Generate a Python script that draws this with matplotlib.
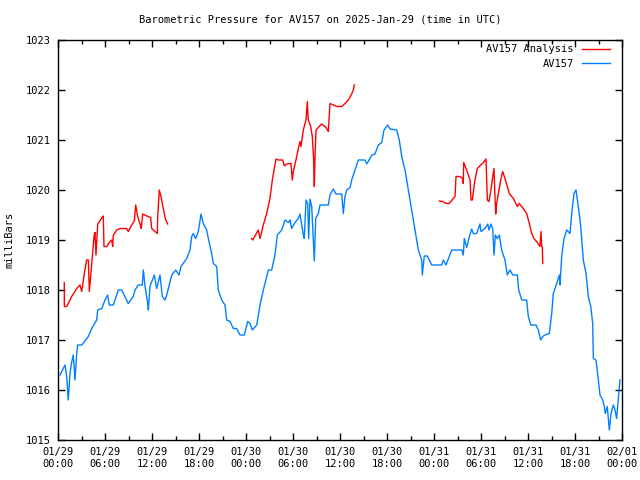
import numpy as np
import pandas as pd
import matplotlib
matplotlib.use('Agg')
import matplotlib.pyplot as plt
import matplotlib.dates as mdates

# hours since 2025-01-29 00:00 UTC, pressure in mb
obs_hours = [0.26, 0.89, 1.11, 1.31, 1.53, 1.75, 1.95, 2.17, 2.39, 2.51, 3.03, 3.87, 4.30, 4.94,
             5.07, 5.58, 6.00, 6.34, 6.55, 7.06, 7.70, 8.13, 8.97, 9.61, 9.83, 10.25, 10.76,
             10.89, 11.11, 11.45, 11.53, 11.74, 12.29, 12.60, 13.02, 13.32, 13.66, 13.88, 14.52,
             15.03, 15.45, 15.70, 16.43, 16.85, 17.07, 17.27, 17.58, 17.91, 18.26, 18.55, 18.98,
             19.19, 19.62, 19.83, 20.26, 20.46, 20.90, 21.32, 21.54, 21.96, 22.38, 22.81, 23.23,
             23.78, 24.22, 24.51, 24.80, 25.37, 25.79, 26.21, 26.85, 27.28, 27.70, 28.00, 28.56,
             28.98, 29.40, 29.62, 29.83, 30.26, 30.68, 30.89, 31.11, 31.32, 31.44, 31.66, 31.88,
             32.00, 32.17, 32.39, 32.59, 32.72, 32.90, 33.23, 33.45, 34.51, 34.72, 35.15, 35.49,
             36.22, 36.42, 36.64, 36.86, 37.28, 37.49, 37.92, 38.34, 39.19, 39.41, 39.83, 40.05,
             40.47, 40.89, 41.32, 41.62, 42.09, 42.38, 43.24, 43.57, 43.88, 44.30, 44.72, 45.15,
             45.58, 46.00, 46.43, 46.51, 46.76, 47.14, 47.71, 48.98, 49.19, 49.53, 50.26, 51.54,
             51.74, 51.87, 52.17, 52.51, 52.81, 53.02, 53.45, 53.87, 54.00, 54.51, 54.86, 55.02,
             55.28, 55.50, 55.66, 55.83, 56.08, 56.34, 56.64, 57.06, 57.36, 57.70, 58.05, 58.64,
             58.81, 59.20, 59.83, 60.04, 60.35, 61.02, 61.32, 61.62, 61.88, 62.17, 62.72, 63.03,
             63.23, 63.66, 64.00, 64.09, 64.30, 64.60, 64.94, 65.36, 65.58, 65.87, 66.13, 66.42,
             66.73, 67.06, 67.41, 67.70, 68.01, 68.26, 68.34, 68.68, 68.98, 69.19, 69.54, 69.74,
             69.87, 70.12, 70.38, 70.60, 70.89, 71.11, 71.32, 71.53, 71.74]
obs_mb = [1016.3, 1016.5, 1016.27, 1015.8, 1016.33, 1016.56, 1016.7, 1016.2, 1016.73, 1016.9,
          1016.9, 1017.07, 1017.23, 1017.4, 1017.6, 1017.63, 1017.8, 1017.9, 1017.7, 1017.7,
          1018.0, 1018.0, 1017.73, 1017.87, 1018.0, 1018.1, 1018.1, 1018.4, 1018.07, 1017.73,
          1017.6, 1018.07, 1018.3, 1018.03, 1018.3, 1017.87, 1017.8, 1017.9, 1018.3, 1018.4,
          1018.3, 1018.47, 1018.63, 1018.8, 1019.07, 1019.13, 1019.03, 1019.17, 1019.52, 1019.33,
          1019.2, 1019.03, 1018.73, 1018.53, 1018.47, 1018.0, 1017.8, 1017.7, 1017.4, 1017.37,
          1017.23, 1017.23, 1017.1, 1017.1, 1017.37, 1017.33, 1017.2, 1017.3, 1017.7, 1018.0,
          1018.4, 1018.4, 1018.7, 1019.1, 1019.2, 1019.4, 1019.35, 1019.4, 1019.23, 1019.35,
          1019.43, 1019.52, 1019.3, 1019.1, 1019.03, 1019.8, 1019.73, 1019.03, 1019.82, 1019.67,
          1019.03, 1018.58, 1019.43, 1019.53, 1019.7, 1019.7, 1019.9, 1020.02, 1019.92, 1019.92,
          1019.53, 1019.87, 1020.0, 1020.05, 1020.2, 1020.4, 1020.6, 1020.6, 1020.52, 1020.63,
          1020.7, 1020.72, 1020.9, 1020.95, 1021.2, 1021.3, 1021.22, 1021.2, 1021.0, 1020.67,
          1020.4, 1020.0, 1019.6, 1019.2, 1018.8, 1018.6, 1018.3, 1018.68, 1018.68, 1018.5,
          1018.5, 1018.6, 1018.5, 1018.8, 1018.8, 1018.7, 1019.03, 1018.85, 1019.07, 1019.22,
          1019.13, 1019.13, 1019.32, 1019.17, 1019.23, 1019.32, 1019.2, 1019.32, 1019.22, 1018.7,
          1019.1, 1019.03, 1019.1, 1018.8, 1018.6, 1018.3, 1018.4, 1018.3, 1018.3, 1018.0,
          1017.8, 1017.8, 1017.47, 1017.3, 1017.3, 1017.2, 1017.0, 1017.07, 1017.1, 1017.13,
          1017.53, 1017.93, 1018.13, 1018.3, 1018.1, 1018.67, 1019.03, 1019.2, 1019.13, 1019.53,
          1019.93, 1020.0, 1019.67, 1019.27, 1018.6, 1018.33, 1017.87, 1017.67, 1017.33, 1016.63,
          1016.6, 1016.2, 1015.9, 1015.8, 1015.67, 1015.53, 1015.67, 1015.2, 1015.53, 1015.7,
          1015.6, 1015.43, 1015.83, 1016.2]

ana1_hours = [0.80, 0.81, 1.11, 1.75, 2.39, 2.81, 3.03, 3.36, 3.66, 3.87, 4.00, 4.17, 4.38, 4.60,
              4.72, 4.85, 5.07, 5.49, 5.78, 5.87, 6.22, 6.64, 6.86, 6.98, 7.06, 7.49, 7.92, 8.77,
              8.97, 9.41, 9.74, 9.92, 10.17, 10.51, 10.63, 10.81, 11.32, 11.83, 11.96, 12.38,
              12.68, 12.73, 12.93, 13.15, 13.32, 13.57, 13.75, 14.00]
ana1_mb = [1018.15, 1017.67, 1017.67, 1017.87, 1018.03, 1018.1, 1017.97, 1018.33, 1018.6, 1018.6,
           1017.97, 1018.27, 1018.67, 1019.07, 1019.15, 1018.7, 1019.32, 1019.42, 1019.48, 1018.87,
           1018.87, 1018.97, 1019.0, 1018.87, 1019.1, 1019.2, 1019.23, 1019.23, 1019.17, 1019.3,
           1019.38, 1019.7, 1019.47, 1019.3, 1019.23, 1019.52, 1019.48, 1019.45, 1019.23, 1019.17,
           1019.13, 1019.47, 1020.0, 1019.87, 1019.73, 1019.53, 1019.4, 1019.32]

ana2_hours = [24.73, 24.86, 25.57, 25.79, 26.21, 26.64, 27.06, 27.36, 27.61, 27.83, 28.12, 28.69,
              28.89, 29.20, 29.53, 29.74, 29.91, 30.04, 30.38, 30.68, 30.89, 31.02, 31.32, 31.53,
              31.66, 31.83, 31.95, 32.26, 32.46, 32.64, 32.72, 32.81, 32.94, 33.23, 33.66, 34.21,
              34.51, 34.72, 35.15, 35.58, 36.22, 36.64, 37.06, 37.49, 37.70, 37.83]
ana2_mb = [1019.03, 1019.0, 1019.2, 1019.03, 1019.3, 1019.53, 1019.83, 1020.2, 1020.43, 1020.62,
           1020.6, 1020.6, 1020.48, 1020.52, 1020.53, 1020.53, 1020.2, 1020.37, 1020.6, 1020.83,
           1020.97, 1020.87, 1021.2, 1021.33, 1021.4, 1021.77, 1021.4, 1021.27, 1021.07, 1020.6,
           1020.07, 1020.67, 1021.2, 1021.25, 1021.32, 1021.25, 1021.17, 1021.73, 1021.7, 1021.67,
           1021.67, 1021.73, 1021.8, 1021.92, 1022.0, 1022.1]

ana3_hours = [48.68, 49.11, 49.53, 49.95, 50.68, 50.81, 51.32, 51.66, 51.74, 51.79, 52.17, 52.60,
              52.72, 52.89, 53.23, 53.53, 53.78, 54.30, 54.64, 54.81, 55.02, 55.24, 55.50, 55.66,
              55.75, 55.88, 56.00, 56.30, 56.52, 56.77, 57.06, 57.36, 57.62, 58.13, 58.64, 58.89,
              59.40, 59.83, 60.17, 60.47, 60.77, 61.19, 61.53, 61.66, 61.75, 61.83, 61.88]
ana3_mb = [1019.78, 1019.77, 1019.73, 1019.73, 1019.87, 1020.27, 1020.27, 1020.23, 1020.13, 1020.55,
           1020.4, 1020.2, 1019.8, 1019.8, 1020.2, 1020.43, 1020.47, 1020.55, 1020.62, 1019.8,
           1019.77, 1019.97, 1020.27, 1020.43, 1020.0, 1019.52, 1019.73, 1020.0, 1020.2, 1020.37,
           1020.23, 1020.07, 1019.93, 1019.83, 1019.67, 1019.73, 1019.63, 1019.53, 1019.33, 1019.13,
           1019.03, 1018.95, 1018.87, 1019.17, 1018.87, 1018.86, 1018.53]

start = pd.Timestamp('2025-01-29 00:00')
end = pd.Timestamp('2025-02-01 00:00')


def to_time(hours):
    return start + pd.to_timedelta(hours, unit='h')


plt.rcParams['font.family'] = ['DejaVu Sans Mono']
plt.rcParams['font.size'] = 7.5

fig = plt.figure(figsize=(6.4, 4.8), dpi=100)
ax = fig.add_axes([58 / 640, 40 / 480, 564 / 640, 400 / 480])

red = '#ff0000'
blue = '#0080ff'
ax.plot(to_time(ana1_hours), ana1_mb, color=red, lw=1, label='AV157 Analysis')
ax.plot(to_time(ana2_hours), ana2_mb, color=red, lw=1)
ax.plot(to_time(ana3_hours), ana3_mb, color=red, lw=1)
ax.plot(to_time(obs_hours), obs_mb, color=blue, lw=1, label='AV157')

ax.set_xlim(start, end)
ax.set_ylim(1015, 1023)
ax.set_yticks(np.arange(1015, 1024, 1))
ax.xaxis.set_major_locator(mdates.HourLocator(byhour=range(0, 24, 6)))
ax.xaxis.set_minor_locator(mdates.HourLocator(byhour=range(0, 24, 3)))
ax.xaxis.set_major_formatter(mdates.DateFormatter('%m/%d\n%H:%M'))
ax.tick_params(which='both', direction='in', top=True, right=True, width=1)
ax.tick_params(which='major', length=5, pad=5)
ax.tick_params(which='minor', length=3)
for s in ax.spines.values():
    s.set_linewidth(1)

ax.set_ylabel('milliBars', labelpad=8)
fig.text(0.5, 1 - 20 / 480, 'Barometric Pressure for AV157 on 2025-Jan-29 (time in UTC)',
         ha='center', va='center', fontsize=7.5)

leg = ax.legend(loc='upper right', bbox_to_anchor=((614 - 58) / 564, 1.0), borderaxespad=0,
                frameon=False, markerfirst=False, handlelength=2.7, labelspacing=0.45,
                handletextpad=0.75)
for t in leg.get_texts():
    t.set_ha('right')

fig.savefig('out.png', dpi=100)
